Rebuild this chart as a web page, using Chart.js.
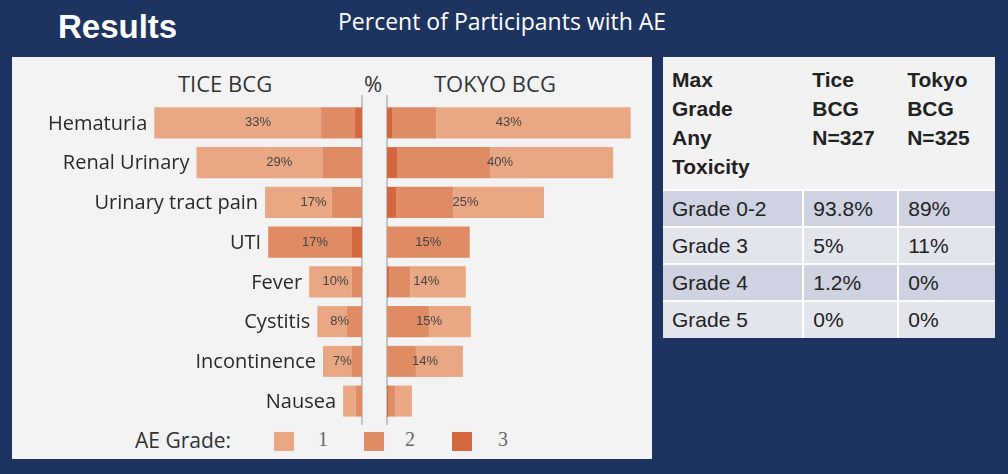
<!DOCTYPE html>
<html>
<head>
<meta charset="utf-8">
<script src="https://cdn.jsdelivr.net/npm/chart.js@4"></script>
<style>
  body { margin: 0; width: 1008px; height: 474px; background: #1d3461; position: relative; overflow: hidden; font-family: "Liberation Sans", Arial, sans-serif; }
  .abs { position: absolute; }
  #panel { left: 12px; top: 57px; width: 640px; height: 402px; background: #f3f3f3; }
  .title { color: #fff; }
  .hdr { color: #333; font-size: 22px; top: 68px; font-family: "Open Sans", sans-serif; }
  .vline { width: 2px; background: #c4c4c4; top: 95px; height: 330px; }
  .sw { width: 20px; height: 19px; top: 432px; }
  .num { top: 428px; font-family: "Liberation Serif", serif; font-size: 20px; color: #666; }
  table { border-collapse: collapse; font-size: 21px; color: #222; }
  td { padding: 0 0 0 9px; border-left: 2px solid #fff; }
  td:first-child { border-left: none; }
</style>
</head>
<body>
<div class="abs title" style="left:58px;top:8px;font-size:33px;font-weight:bold;">Results</div>
<div class="abs title" style="left:338px;top:5px;font-size:23px;font-family:'Open Sans',sans-serif;">Percent of Participants with AE</div>
<div class="abs" id="panel"></div>
<div class="abs hdr" style="left:178px;">TICE BCG</div>
<div class="abs hdr" style="left:364px;">%</div>
<div class="abs hdr" style="left:434px;">TOKYO BCG</div>
<div class="abs vline" style="left:361px;"></div>
<div class="abs vline" style="left:386px;"></div>
<div class="abs" style="left:12px;top:103px;width:350px;height:318px;"><canvas id="leftChart"></canvas></div>
<div class="abs" style="left:387px;top:103px;width:255px;height:318px;"><canvas id="rightChart"></canvas></div>
<div class="abs" style="left:135px;top:426px;font-size:21px;color:#333;font-family:'Open Sans',sans-serif;">AE Grade:</div>
<div class="abs sw" style="left:274px;background:#e9a783;"></div>
<div class="abs num" style="left:318px;">1</div>
<div class="abs sw" style="left:364px;background:#df8b64;"></div>
<div class="abs num" style="left:405px;">2</div>
<div class="abs sw" style="left:452px;background:#d5673f;"></div>
<div class="abs num" style="left:498px;">3</div>
<div class="abs" style="left:663px;top:57px;width:332px;">
<table id="tbl" style="width:332px;"></table>
</div>
<script>
const categories = ['Hematuria', 'Renal Urinary', 'Urinary tract pain', 'UTI', 'Fever', 'Cystitis', 'Incontinence', 'Nausea'];
const ticeLabels = ['33%', '29%', '17%', '17%', '10%', '8%', '7%', ''];
const tokyoLabels = ['43%', '40%', '25%', '15%', '14%', '15%', '14%', ''];
// segments from the centre outwards: grade 3, grade 2, grade 1
const ticeG3 = [1.1, 0, 0, 1.7, 0, 0, 0, 0];
const ticeG2 = [5.4, 6.2, 4.8, 13.2, 1.6, 2.4, 1.7, 1.0];
const ticeG1 = [26.5, 20.1, 10.6, 0, 6.8, 4.7, 4.5, 2.0];
const tokyoG3 = [0.9, 1.8, 1.6, 0, 0.4, 0, 0, 0.3];
const tokyoG2 = [7.8, 16.4, 10.1, 14.6, 3.7, 7.4, 5.1, 1.1];
const tokyoG1 = [34.3, 21.7, 16.0, 0, 9.8, 7.4, 8.3, 3.0];
const gradeColors = ['#d5673f', '#df8b64', '#e9a783'];

const tableHead = ['Max\nGrade\nAny\nToxicity', 'Tice\nBCG\nN=327', 'Tokyo\nBCG\nN=325'];
const tableRows = [
    ['Grade 0-2', '93.8%', '89%'],
    ['Grade 3', '5%', '11%'],
    ['Grade 4', '1.2%', '0%'],
    ['Grade 5', '0%', '0%']
];

function buildTable() {
    const tbl = document.getElementById('tbl');
    let html = '<tr style="background:#f2f2f2;height:133px;vertical-align:top;font-weight:bold;">';
    tableHead.forEach((h, i) => {
        html += `<td style="padding-top:8px;line-height:29px;border-left:none;width:${[136, 88, 90][i]}px">${h.replace(/\n/g, '<br>')}</td>`;
    });
    html += '</tr>';
    tableRows.forEach((r, i) => {
        html += `<tr style="height:37px;background:${i % 2 === 0 ? '#cfd3e1' : '#e3e5ed'};border-top:2px solid #fff">`;
        r.forEach(c => { html += `<td>${c}</td>`; });
        html += '</tr>';
    });
    tbl.innerHTML = html;
}
buildTable();

function makeLabelPlugin(texts, withNames) {
    return {
        id: 'barText',
        afterDatasetsDraw(chart) {
            const ctx = chart.ctx;
            const last = chart.getDatasetMeta(2).data;
            ctx.save();
            last.forEach((bar, i) => {
                const x0 = chart.scales.x.getPixelForValue(0);
                const xEnd = bar.x;
                ctx.textBaseline = 'middle';
                if (texts[i]) {
                    ctx.fillStyle = '#444';
                    ctx.font = '13px "Liberation Sans", Arial';
                    ctx.textAlign = 'center';
                    ctx.fillText(texts[i], (x0 + xEnd) / 2, bar.y);
                }
                if (withNames) {
                    ctx.fillStyle = '#2a2a2a';
                    ctx.font = '20px "Open Sans", sans-serif';
                    ctx.textAlign = 'right';
                    ctx.fillText(categories[i], xEnd - 7, bar.y + 1);
                }
            });
            ctx.restore();
        }
    };
}

function makeChart(id, g3, g2, g1, max, reverse, texts, withNames) {
    const ds = [g3, g2, g1].map((d, k) => ({
        data: d,
        backgroundColor: gradeColors[k],
        borderWidth: 0,
        barPercentage: 0.78,
        categoryPercentage: 1
    }));
    return new Chart(document.getElementById(id), {
        type: 'bar',
        data: { labels: categories, datasets: ds },
        options: {
            indexAxis: 'y',
            responsive: true,
            maintainAspectRatio: false,
            animation: false,
            layout: { padding: 0 },
            plugins: { legend: { display: false }, tooltip: { enabled: false } },
            scales: {
                x: { stacked: true, min: 0, max: max, reverse: reverse, display: false },
                y: { stacked: true, display: false }
            }
        },
        plugins: [makeLabelPlugin(texts, withNames)]
    });
}

makeChart('leftChart', ticeG3, ticeG2, ticeG1, 55.6, true, ticeLabels, true);
makeChart('rightChart', tokyoG3, tokyoG2, tokyoG1, 45, false, tokyoLabels, false);
</script>
</body>
</html>
